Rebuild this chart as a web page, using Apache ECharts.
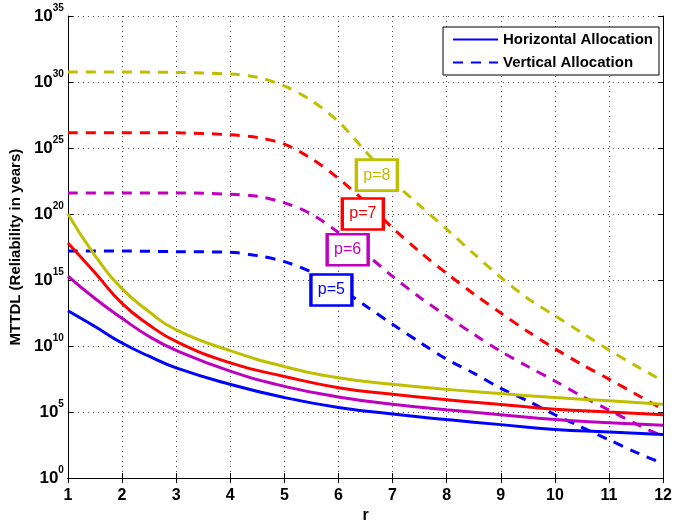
<!DOCTYPE html>
<html>
<head>
<meta charset="utf-8">
<script src="https://cdn.jsdelivr.net/npm/echarts@6/dist/echarts.min.js"></script>
<style>
html, body { margin: 0; padding: 0; background: #fff; }
#main { width: 675px; height: 529px; }
</style>
</head>
<body>
<div id="main"></div>
<script>
// r values and log10(MTTDL)
var rH = [1, 1.5, 2, 2.5, 3, 4, 5, 6, 7, 8, 9, 10, 11, 12];
var p8H = [20.0, 16.85, 14.35, 12.6, 11.23, 9.65, 8.45, 7.6, 7.1, 6.72, 6.4, 6.1, 5.85, 5.6];
var p7H = [17.8, 15.55, 13.23, 11.6, 10.35, 8.73, 7.7, 6.85, 6.35, 5.93, 5.58, 5.22, 5.0, 4.8];
var p6H = [15.3, 13.6, 12.1, 10.73, 9.68, 8.1, 6.95, 6.15, 5.6, 5.18, 4.8, 4.43, 4.2, 4.0];
var p5H = [12.68, 11.48, 10.23, 9.23, 8.35, 7.1, 6.1, 5.35, 4.85, 4.43, 4.05, 3.68, 3.5, 3.3];

var rV = [1, 2, 3, 4, 4.5, 5, 5.5, 6, 6.5, 7, 7.5, 8, 8.5, 9, 9.5, 10, 10.5, 11, 11.5, 12];
var p8V = [30.75, 30.75, 30.73, 30.6, 30.36, 29.7, 28.6, 27.0, 24.75, 22.5, 20.65, 18.85, 17.0, 15.2, 13.6, 12.3, 11.0, 9.7, 8.5, 7.35];
var p7V = [26.15, 26.15, 26.15, 26.0, 25.8, 25.3, 24.2, 22.7, 20.9, 18.95, 17.15, 15.5, 13.95, 12.5, 11.1, 9.8, 8.6, 7.5, 6.35, 5.2];
var p6V = [21.6, 21.6, 21.6, 21.5, 21.35, 20.85, 20.0, 18.6, 17.0, 15.28, 13.7, 12.28, 10.9, 9.6, 8.45, 7.35, 6.2, 5.15, 4.1, 3.15];
var p5V = [17.2, 17.2, 17.15, 17.1, 16.85, 16.4, 15.6, 14.45, 13.05, 11.65, 10.3, 9.0, 7.95, 6.8, 5.85, 4.8, 3.85, 2.9, 1.95, 1.1];

var pLabels = ['p=5', 'p=6', 'p=7', 'p=8'];
var labelPos = [[5.87, 14.25], [6.17, 17.3], [6.45, 20.0], [6.71, 22.95]];

var colors = ['#0000ff', '#bf00bf', '#ff0000', '#bfbf00'];
var font = 'Liberation Sans, Arial, Helvetica, sans-serif';

function zip(xs, ys) {
	return xs.map(function (x, i) { return [x, ys[i]]; });
}

var hData = [p5H, p6H, p7H, p8H];
var vData = [p5V, p6V, p7V, p8V];

var series = [];
for (var i = 0; i < 4; i++) {
	series.push({
		name: i == 0 ? 'Horizontal Allocation' : 'H ' + pLabels[i],
		type: 'line',
		data: zip(rH, hData[i]),
		smooth: 0.5,
		symbol: 'none',
		z: 3,
		lineStyle: { color: colors[i], width: 3 },
		itemStyle: { color: colors[i] }
	});
}
for (var j = 0; j < 4; j++) {
	series.push({
		name: j == 0 ? 'Vertical Allocation' : 'V ' + pLabels[j],
		type: 'line',
		data: zip(rV, vData[j]),
		smooth: 0.3,
		symbol: 'none',
		z: 2,
		lineStyle: { color: colors[j], width: 3, type: [10, 8] },
		itemStyle: { color: colors[j] },
		markPoint: {
			silent: true,
			symbol: 'rect',
			symbolSize: [41, 31],
			itemStyle: { color: '#fff', borderColor: colors[j], borderWidth: 3 },
			label: {
				show: true,
				formatter: pLabels[j],
				color: colors[j],
				fontSize: 16,
				fontFamily: font
			},
			data: [{ coord: labelPos[j] }]
		}
	});
}

var chart = echarts.init(document.getElementById('main'));
var option = {
	animation: false,
	backgroundColor: '#fff',
	grid: { left: 62, right: 8, top: 16, bottom: 46 },
	legend: {
		data: ['Horizontal Allocation', 'Vertical Allocation'],
		orient: 'vertical',
		left: 443,
		top: 27,
		padding: [5, 6, 5, 9],
		itemGap: 8,
		itemWidth: 45,
		itemHeight: 15,
		backgroundColor: '#fff',
		borderColor: '#000',
		borderWidth: 1,
		borderRadius: 0,
		itemStyle: { opacity: 0 },
		textStyle: { color: '#000', fontSize: 15, fontWeight: 'bold', fontFamily: font }
	},
	xAxis: [{
		type: 'value',
		min: 1,
		max: 12,
		interval: 1,
		name: 'r',
		nameLocation: 'middle',
		nameGap: 28,
		nameTextStyle: { color: '#000', fontSize: 16, fontWeight: 'bold', fontFamily: font },
		axisLine: { lineStyle: { color: '#000', width: 1 } },
		axisTick: { inside: true, length: 5, lineStyle: { color: '#000' } },
		axisLabel: { color: '#000', fontSize: 16, fontWeight: 'bold', fontFamily: font, margin: 9 },
		splitLine: { show: true, lineStyle: { color: '#444', type: [1, 4], width: 1 } }
	}, {
		type: 'value',
		position: 'top',
		min: 1,
		max: 12,
		interval: 1,
		axisLine: { show: true, lineStyle: { color: '#000', width: 1 } },
		axisTick: { inside: true, length: 5, lineStyle: { color: '#000' } },
		axisLabel: { show: false },
		splitLine: { show: false }
	}],
	yAxis: [{
		type: 'value',
		min: 0,
		max: 35,
		interval: 5,
		name: 'MTTDL (Reliability in years)',
		nameLocation: 'middle',
		nameGap: 31,
		nameTextStyle: { color: '#000', fontSize: 15, fontWeight: 'bold', fontFamily: font },
		axisLine: { show: true, lineStyle: { color: '#000', width: 1 } },
		axisTick: { inside: true, length: 5, lineStyle: { color: '#000' } },
		axisLabel: {
			margin: 4,
			formatter: function (v) { return '{b|10}{e|' + v + '}'; },
			rich: {
				b: { color: '#000', fontSize: 17, fontWeight: 'bold', fontFamily: font, lineHeight: 26 },
				e: { color: '#000', fontSize: 10, fontWeight: 'bold', fontFamily: font, lineHeight: 11, verticalAlign: 'top' }
			}
		},
		splitLine: { show: true, lineStyle: { color: '#444', type: [1, 4], width: 1 } }
	}, {
		type: 'value',
		position: 'right',
		min: 0,
		max: 35,
		interval: 5,
		axisLine: { show: true, lineStyle: { color: '#000', width: 1 } },
		axisTick: { inside: true, length: 5, lineStyle: { color: '#000' } },
		axisLabel: { show: false },
		splitLine: { show: false }
	}],
	series: series
};
chart.setOption(option);
</script>
</body>
</html>
